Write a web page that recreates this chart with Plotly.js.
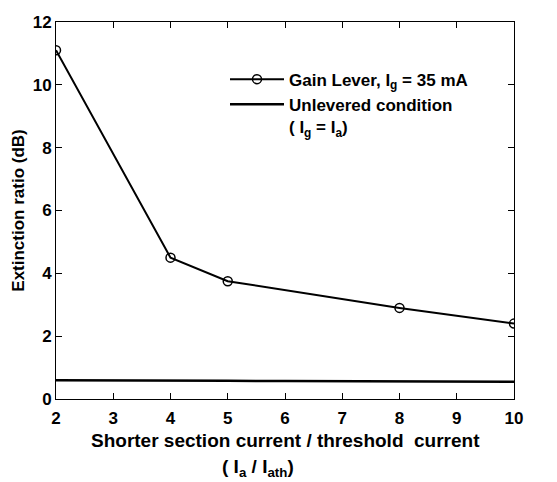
<!DOCTYPE html>
<html><head><meta charset="utf-8">
<script src="https://cdn.plot.ly/plotly-3.0.1.min.js"></script>
<style>body{margin:0;padding:0;background:#fff}</style>
</head><body>
<div id="chart" style="width:557px;height:482px"></div>
<script>
var leverX = [2, 4, 5, 8, 10];
var leverY = [11.1, 4.5, 3.75, 2.9, 2.4];
var unlevX = [2, 3, 4, 5, 6, 7, 8, 9, 10];
var unlevY = [0.6, 0.6, 0.58, 0.58, 0.57, 0.56, 0.56, 0.56, 0.55];
var xTicks = [2, 3, 4, 5, 6, 7, 8, 9, 10];
var yTicks = [0, 2, 4, 6, 8, 10, 12];

var F = 'Arial, "Liberation Sans", sans-serif';
var traces = [
  {x: leverX, y: leverY, mode: 'lines+markers', name: '<b>Gain Lever, I<sub>g</sub> = 35 mA</b>',
   line: {color: '#000', width: 2}, marker: {symbol: 'circle-open', size: 9, color: '#000', line: {width: 1.5}}},
  {x: unlevX, y: unlevY, mode: 'lines', name: '<b>Unlevered condition<br>( I<sub>g</sub> = I<sub>a</sub>)</b>',
   line: {color: '#000', width: 2.5}}
];
var layout = {
  width: 557, height: 482,
  margin: {l: 56, r: 43, t: 22, b: 83},
  paper_bgcolor: '#fff', plot_bgcolor: '#fff',
  font: {family: F, color: '#000', size: 17},
  showlegend: true,
  legend: {x: 0.369, y: 0.895, xanchor: 'left', yanchor: 'top', bgcolor: 'rgba(0,0,0,0)',
           font: {family: F, size: 17, color: '#000'}, tracegroupgap: 0, valign: 'top', itemwidth: 54},
  xaxis: {range: [2, 10], tickvals: xTicks, ticktext: xTicks.map(function(v){return '<b>'+v+'</b>';}),
          ticks: 'inside', ticklen: 6, tickcolor: '#000', showline: true, linecolor: '#000', linewidth: 1,
          mirror: 'ticks', showgrid: false, zeroline: false, tickfont: {size: 17}, ticklabelstandoff: 4},
  yaxis: {range: [0, 12], tickvals: yTicks, ticktext: yTicks.map(function(v){return '<b>'+v+'</b>';}),
          ticks: 'inside', ticklen: 6, tickcolor: '#000', showline: true, linecolor: '#000', linewidth: 1,
          mirror: 'ticks', showgrid: false, zeroline: false, tickfont: {size: 17},
          title: {text: '<b>Extinction ratio (dB)</b>', font: {size: 17}, standoff: 3}},
  annotations: [
    {xref: 'paper', yref: 'paper', x: 0.5, y: -0.111, xanchor: 'center', yanchor: 'middle', showarrow: false,
     text: '<b>Shorter section current / threshold  current</b>', font: {size: 19}},
    {xref: 'paper', yref: 'paper', x: 0.441, y: -0.182, xanchor: 'center', yanchor: 'middle', showarrow: false,
     text: '<b>( I<sub>a</sub> / I<sub>ath</sub>)</b>', font: {size: 19}}
  ]
};
Plotly.newPlot('chart', traces, layout, {displayModeBar: false});
</script>
</body></html>
